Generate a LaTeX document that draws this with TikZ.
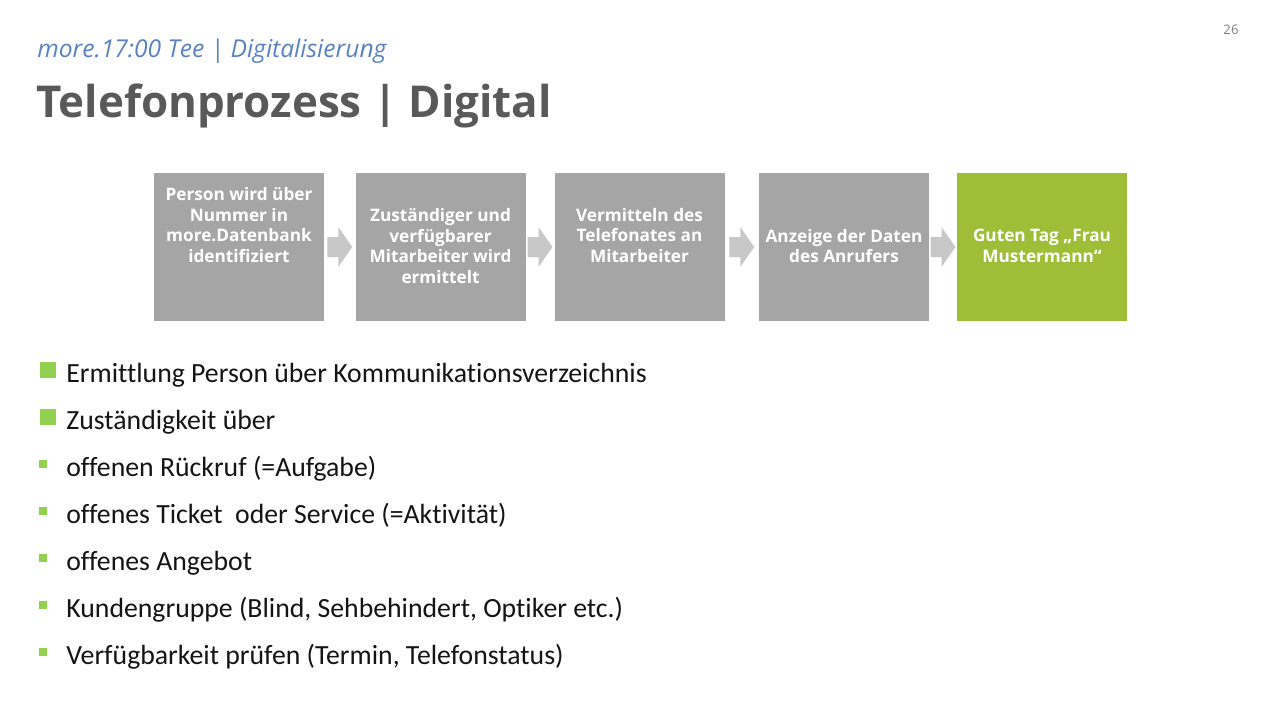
\documentclass[tikz,border=0pt]{standalone}
\usepackage{fontspec}
\setmainfont{Carlito}[Ligatures=NoCommon]
\newfontfamily\opensans{Open Sans}
\usepackage{tikz}
\usetikzlibrary{calc}
\definecolor{boxgray}{HTML}{A5A5A5}
\definecolor{boxgreen}{HTML}{9FBE38}
\definecolor{arrowgray}{HTML}{C8C8C8}
\definecolor{titlegray}{HTML}{595959}
\definecolor{subblue}{HTML}{5A82C2}
\definecolor{bulletgreen}{HTML}{92D050}
\definecolor{bodytext}{HTML}{141414}

% block arrow between two process boxes
\newcommand{\flowarrow}[2]{%
  \draw[flowarr] ($(#1.east)!0.5!(#2.west)+(-12.5,-10)$)
    -- ++(11,0) -- ++(0,-10) -- ++(14,20) -- ++(-14,20)
    -- ++(0,-10) -- ++(-11,0) -- cycle;
}

\begin{document}
\begin{tikzpicture}[
    x=0.02cm, y=-0.02cm,
    procbox/.style={fill=boxgray, draw=none, minimum width=170*0.02cm,
                    minimum height=148*0.02cm, inner sep=0pt},
    donebox/.style={procbox, fill=boxgreen},
    proctxt/.style={font=\opensans\bfseries\fontsize{9.8}{11.9}\selectfont,
                    text=white, align=center, inner sep=0pt},
    flowarr/.style={fill=arrowgray, draw=none},
    bigmark/.style={fill=bulletgreen, draw=none, minimum size=16*0.02cm,
                    inner sep=0pt},
    smallmark/.style={fill=bulletgreen, draw=none, minimum size=8*0.02cm,
                      inner sep=0pt},
    item/.style={font=\fontsize{15.8}{19}\selectfont, text=bodytext,
                 anchor=base west, inner sep=0pt},
  ]

  \useasboundingbox (0,0) rectangle (1279,720);

  % =========================================================
  %  HEADER
  % =========================================================
  \node[font=\opensans\itshape\fontsize{14}{17}\selectfont, text=subblue,
        anchor=base west, inner sep=0pt] (sub) at (37,57)
    {more.17:00 Tee | Digitalisierung};
  \node[font=\opensans\bfseries\fontsize{25}{30}\selectfont, text=titlegray,
        anchor=base west, inner sep=0pt] (title) at (36,117)
    {Telefonprozess | Digital};
  \node[font=\opensans\fontsize{7.5}{9}\selectfont, text=gray,
        anchor=base, inner sep=0pt] (page) at (1231,34) {26};

  % =========================================================
  %  PROCESS CHAIN
  % =========================================================
  \node[procbox] (b1) at (239,247) {};
  \node[procbox] (b2) at (440.5,247) {};
  \node[procbox] (b3) at (639.5,247) {};
  \node[procbox] (b4) at (844,247) {};
  \node[donebox] (b5) at (1042,247) {};

  \node[proctxt] (t1) at (239,225)
    {Person wird über\\Nummer in\\more.Datenbank\\identifiziert};
  \node[proctxt] (t2) at (440.5,246)
    {Zuständiger und\\verfügbarer\\Mitarbeiter wird\\ermittelt};
  \node[proctxt] (t3) at (639.5,235.5)
    {Vermitteln des\\Telefonates an\\Mitarbeiter};
  \node[proctxt] (t4) at (844,246) {Anzeige der Daten\\des Anrufers};
  \node[proctxt] (t5) at (1042,246) {Guten Tag „Frau\\Mustermann“};

  \flowarrow{b1}{b2}
  \flowarrow{b2}{b3}
  \flowarrow{b3}{b4}
  \flowarrow{b4}{b5}

  % =========================================================
  %  BULLET LIST
  % =========================================================
  \foreach \k/\mk/\txt in {
      0/big/{Ermittlung Person über Kommunikationsverzeichnis},
      1/big/{Zuständigkeit über},
      2/small/{offenen Rückruf (=Aufgabe)},
      3/small/{offenes Ticket \ oder Service (=Aktivität)},
      4/small/{offenes Angebot},
      5/small/{Kundengruppe (Blind, Sehbehindert, Optiker etc.)},
      6/small/{Verfügbarkeit prüfen (Termin, Telefonstatus)}}{
    \pgfmathsetmacro{\by}{382+47*\k}
    \ifnum\k<2
      \node[bigmark] (m\k) at (47.5,\by-12.5) {};
    \else
      \node[smallmark] (m\k) at (42.5,\by-12) {};
    \fi
    \node[item] (l\k) at (66,\by) {\txt};
  }

\end{tikzpicture}
\end{document}
